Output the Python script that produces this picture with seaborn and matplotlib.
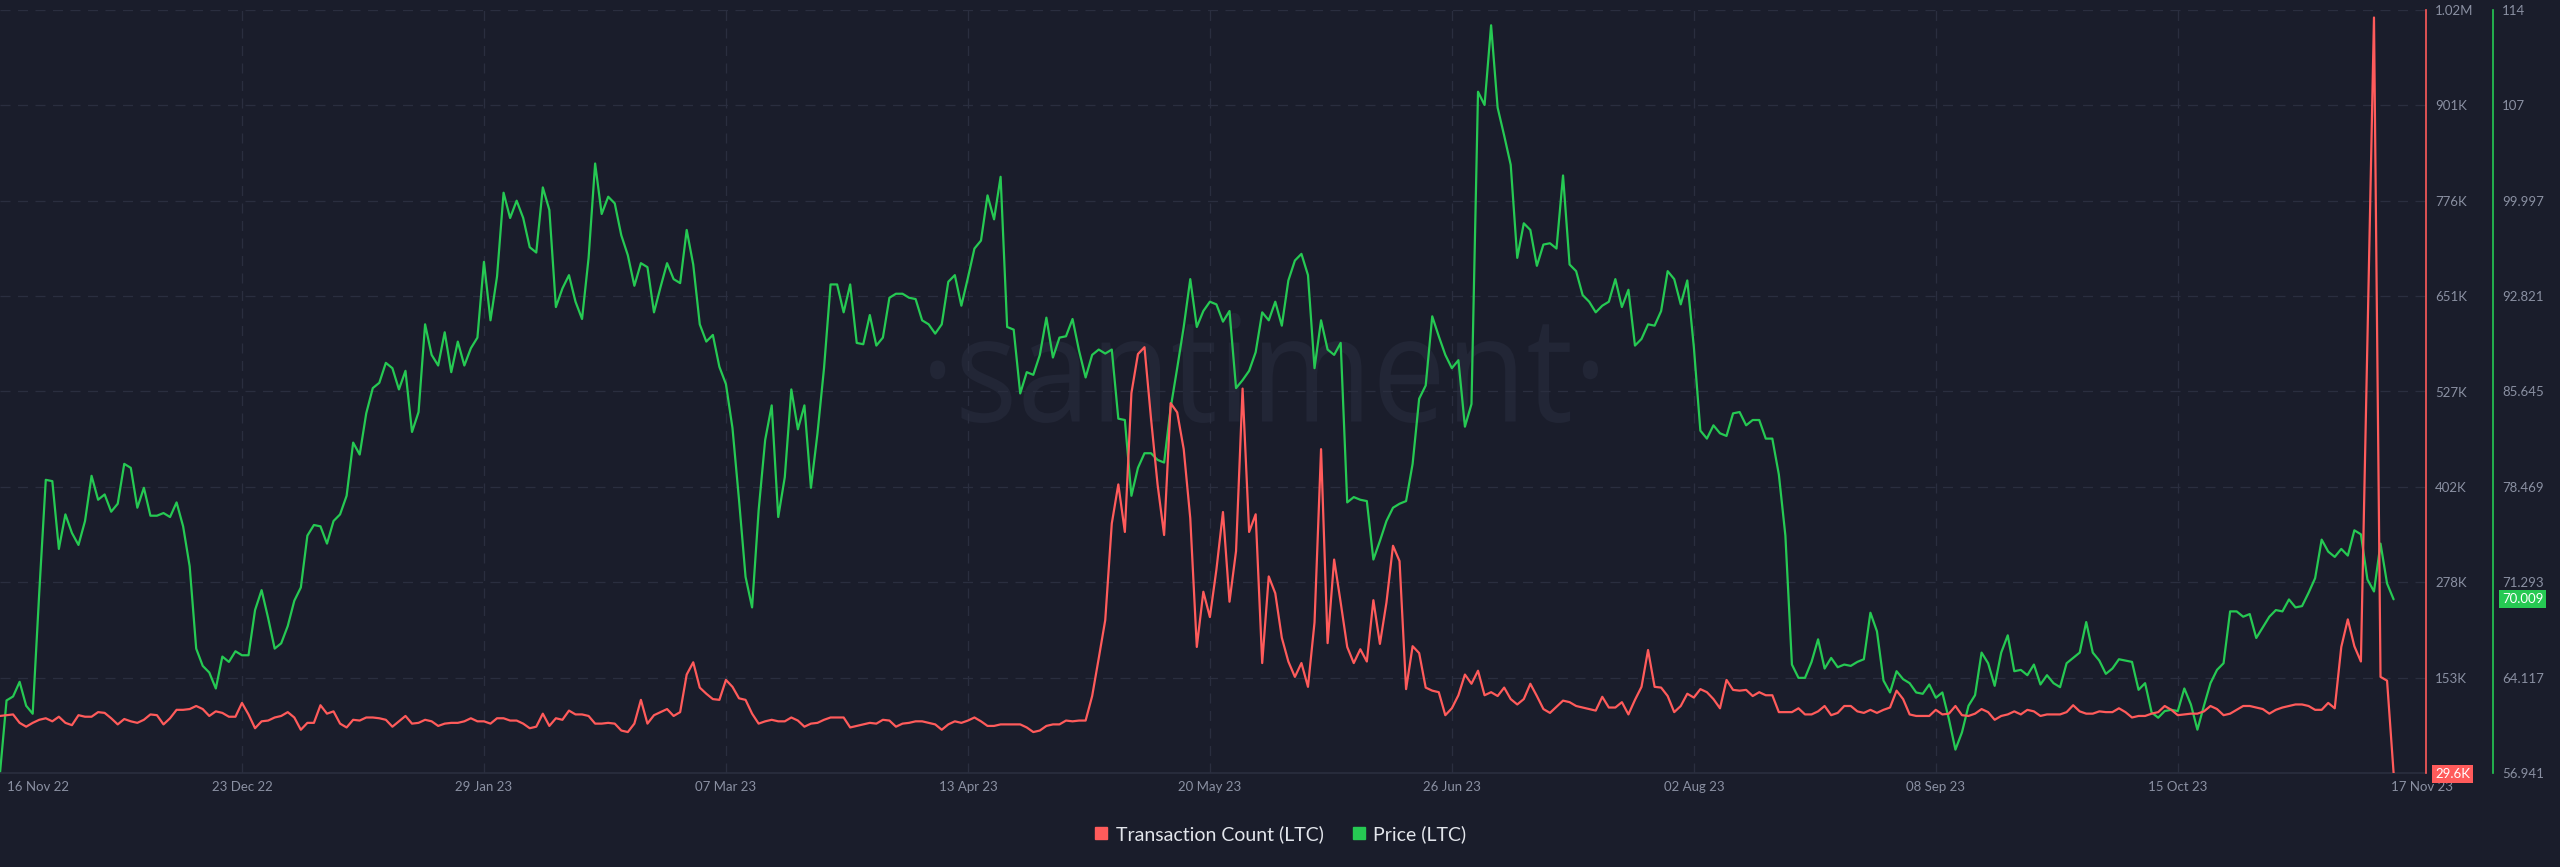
import numpy as np
import pandas as pd
import matplotlib
matplotlib.use("Agg")
import matplotlib.pyplot as plt
from matplotlib.lines import Line2D
from matplotlib.textpath import TextPath
from matplotlib.patches import PathPatch
from matplotlib.font_manager import FontProperties
from matplotlib.transforms import Affine2D, ScaledTranslation
import seaborn as sns

# ---------------- data ----------------
start_date = "2022-11-16"
end_date = "2023-11-17"

price_ltc = [
    56.941, 62.4, 62.7, 63.8, 62.0, 61.4, 70.5, 79.0, 78.9, 73.8,
    76.4, 75.0, 74.1, 75.9, 79.3, 77.5, 77.9, 76.6, 77.2, 80.2,
    79.9, 76.9, 78.4, 76.3, 76.3, 76.5, 76.2, 77.3, 75.5, 72.5,
    66.3, 65.0, 64.5, 63.3, 65.7, 65.3, 66.1, 65.8, 65.8, 69.2,
    70.7, 68.6, 66.3, 66.7, 68.0, 69.9, 70.9, 74.8, 75.6, 75.5,
    74.2, 75.9, 76.4, 77.8, 81.8, 80.9, 84.0, 85.9, 86.3, 87.8,
    87.4, 85.8, 87.2, 82.6, 84.1, 90.7, 88.4, 87.6, 90.1, 87.1,
    89.4, 87.6, 88.9, 89.7, 95.4, 91.0, 94.3, 100.6, 98.7, 100.0,
    98.7, 96.5, 96.1, 101.0, 99.3, 92.0, 93.4, 94.4, 92.4, 91.1,
    95.7, 102.8, 99.0, 100.3, 99.8, 97.4, 95.9, 93.6, 95.3, 95.0,
    91.6, 93.5, 95.3, 94.1, 93.8, 97.8, 95.2, 90.7, 89.4, 89.9,
    87.5, 86.2, 82.9, 77.5, 71.7, 69.4, 76.7, 82.0, 84.6, 76.2,
    79.2, 85.8, 82.8, 84.6, 78.4, 82.5, 87.4, 93.7, 93.7, 91.6,
    93.7, 89.3, 89.2, 91.4, 89.1, 89.7, 92.7, 93.0, 93.0, 92.7,
    92.6, 91.0, 90.7, 90.0, 90.7, 93.9, 94.4, 92.1, 94.2, 96.4,
    97.0, 100.4, 98.6, 101.8, 90.5, 90.3, 85.5, 87.1, 86.9, 88.4,
    91.2, 88.2, 89.7, 89.8, 91.1, 88.7, 86.7, 88.4, 88.8, 88.5,
    88.8, 83.6, 83.5, 77.8, 79.9, 81.0, 81.0, 80.5, 80.3, 84.4,
    87.4, 90.5, 94.1, 90.5, 91.7, 92.4, 92.2, 90.9, 91.7, 85.9,
    86.5, 87.2, 88.6, 91.6, 91.0, 92.4, 90.6, 94.0, 95.5, 96.0,
    94.4, 87.4, 91.0, 88.8, 88.4, 89.3, 77.3, 77.7, 77.5, 77.4,
    73.0, 74.4, 75.9, 76.9, 77.2, 77.4, 80.2, 85.1, 86.1, 91.3,
    89.8, 88.4, 87.4, 88.0, 83.0, 84.7, 108.2, 107.2, 113.2, 107.0,
    104.9, 102.7, 95.7, 98.3, 97.8, 95.1, 96.7, 96.8, 96.4, 101.9,
    95.2, 94.7, 92.9, 92.4, 91.6, 92.1, 92.4, 94.1, 92.0, 93.3,
    89.1, 89.6, 90.7, 90.6, 91.7, 94.7, 94.1, 92.2, 94.0, 89.0,
    82.7, 82.1, 83.1, 82.5, 82.3, 84.0, 84.1, 83.1, 83.5, 83.5,
    82.1, 82.1, 79.4, 74.8, 65.1, 64.1, 64.1, 65.3, 67.0, 64.8,
    65.6, 64.9, 65.1, 65.0, 65.3, 65.5, 69.0, 67.6, 63.9, 63.0,
    64.6, 64.0, 63.7, 63.0, 62.9, 63.6, 62.6, 63.0, 61.0, 58.7,
    60.0, 62.0, 62.8, 66.0, 65.2, 63.5, 66.0, 67.3, 64.6, 64.7,
    64.3, 65.1, 63.6, 64.3, 63.7, 63.4, 65.2, 65.6, 66.0, 68.3,
    66.0, 65.4, 64.4, 64.8, 65.5, 65.4, 65.3, 63.2, 63.7, 61.5,
    61.1, 61.6, 61.7, 61.6, 63.3, 62.1, 60.2, 62.0, 63.7, 64.7,
    65.2, 69.1, 69.1, 68.7, 68.9, 67.1, 67.9, 68.7, 69.2, 69.1,
    70.0, 69.4, 69.5, 70.5, 71.6, 74.5, 73.6, 73.2, 73.8, 73.3,
    75.2, 74.9, 71.5, 70.6, 74.2, 71.2, 70.009,
]

# transaction count, in thousands
tx_count_k = [
    104, 105, 106, 95, 90, 95, 99, 101, 97, 103,
    95, 92, 105, 103, 103, 109, 108, 101, 93, 100,
    97, 95, 99, 106, 105, 93, 101, 112, 112, 113,
    117, 113, 104, 110, 108, 103, 103, 121, 106, 88,
    97, 98, 102, 104, 109, 102, 86, 95, 95, 118,
    107, 110, 94, 89, 99, 98, 102, 102, 101, 99,
    90, 97, 104, 94, 95, 99, 97, 91, 94, 95,
    95, 97, 101, 97, 97, 94, 101, 101, 98, 98,
    94, 88, 90, 107, 91, 101, 99, 111, 106, 106,
    104, 94, 94, 95, 94, 85, 83, 94, 125, 94,
    105, 109, 113, 104, 109, 158, 174, 141, 133, 126,
    125, 151, 142, 127, 125, 107, 94, 97, 99, 97,
    97, 102, 98, 90, 94, 95, 99, 102, 102, 102,
    89, 91, 93, 95, 94, 99, 98, 90, 94, 95,
    97, 97, 95, 93, 86, 93, 97, 95, 98, 102,
    97, 91, 91, 93, 93, 93, 93, 89, 83, 85,
    91, 93, 93, 98, 97, 98, 98, 130, 179, 229,
    355, 406, 344, 525, 576, 585, 492, 406, 340, 512,
    500, 452, 362, 194, 266, 233, 295, 370, 253, 319,
    531, 344, 367, 173, 286, 264, 206, 175, 155, 173,
    142, 226, 452, 199, 308, 252, 194, 173, 191, 175,
    255, 198, 252, 326, 306, 139, 195, 186, 141, 137,
    135, 105, 114, 131, 158, 146, 163, 131, 135, 130,
    141, 126, 119, 126, 146, 130, 113, 108, 116, 124,
    122, 117, 115, 113, 111, 129, 115, 115, 122, 106,
    125, 142, 190, 142, 141, 130, 109, 117, 133, 128,
    139, 135, 126, 114, 151, 138, 137, 138, 130, 135,
    131, 131, 109, 109, 109, 114, 106, 106, 110, 117,
    105, 108, 117, 117, 110, 108, 112, 108, 112, 115,
    137, 126, 106, 104, 104, 104, 112, 106, 107, 117,
    105, 104, 107, 113, 109, 99, 104, 106, 110, 106,
    112, 110, 104, 106, 106, 106, 109, 118, 110, 107,
    107, 110, 109, 109, 114, 109, 102, 104, 104, 107,
    109, 117, 112, 105, 106, 107, 107, 110, 117, 113,
    105, 107, 112, 117, 117, 115, 113, 107, 112, 115,
    117, 119, 119, 117, 112, 112, 121, 114, 194, 230,
    195, 175, 595, 1015, 155, 150, 29.6,
]

x_tick_dates = ["2022-11-16", "2022-12-23", "2023-01-29", "2023-03-07",
                "2023-04-13", "2023-05-20", "2023-06-26", "2023-08-02",
                "2023-09-08", "2023-10-15", "2023-11-17"]
x_tick_labels = ["16 Nov 22", "23 Dec 22", "29 Jan 23", "07 Mar 23",
                 "13 Apr 23", "20 May 23", "26 Jun 23", "02 Aug 23",
                 "08 Sep 23", "15 Oct 23", "17 Nov 23"]

tx_axis_range = (29_600, 1_024_800)
tx_tick_labels = ["29.6K", "153K", "278K", "402K", "527K", "651K",
                  "776K", "901K", "1.02M"]
price_axis_range = (56.941, 114.349)
price_tick_labels = ["56.941", "64.117", "71.293", "78.469", "85.645",
                     "92.821", "99.997", "107", "114"]

series_names = ["Transaction Count (LTC)", "Price (LTC)"]

# ---------------- style ----------------
BG = "#1a1d2b"
GRID = "#2a2e3f"
RED = "#ff5b5b"
GREEN = "#26c953"
TICK = "#8a90a2"
LEGTXT = "#e2e5eb"
WM = "#222636"

sns.set_theme(style="dark", rc={"axes.facecolor": BG, "figure.facecolor": BG,
                               "savefig.facecolor": BG})
plt.rcParams["font.family"] = ["Lato", "DejaVu Sans"]

dates = pd.date_range(start_date, end_date, freq="D")
assert len(dates) == len(price_ltc) == len(tx_count_k)
df = pd.DataFrame({"date": dates,
                   "price": price_ltc,
                   "tx": np.array(tx_count_k, dtype=float) * 1000})

W, H = 2560, 867
fig = plt.figure(figsize=(W / 100, H / 100), dpi=100)
fig.patch.set_facecolor(BG)

# watermark
fp = FontProperties(family=["Open Sans", "DejaVu Sans"], weight="normal")
tp = TextPath((0, 0), "·santiment·", size=100, prop=fp)
bb = tp.get_extents()
x0, x1 = 930 / W, 1598 / W
y0, y1 = 1 - 423 / H, 1 - 313 / H
tr = (Affine2D().translate(-bb.x0, -bb.y0)
      .scale((x1 - x0) / bb.width, (y1 - y0) / bb.height)
      .translate(x0, y0)) + fig.transFigure
wm = PathPatch(tp, transform=tr, facecolor=WM, edgecolor="none", zorder=-5)
fig.add_artist(wm)

ax_left_px, ax_right_px, ax_top_px, ax_bot_px = 0, 2426, 10, 773
ax_price = fig.add_axes([ax_left_px / W, 1 - ax_bot_px / H,
                         (ax_right_px - ax_left_px) / W,
                         (ax_bot_px - ax_top_px) / H])
ax_price.patch.set_visible(False)
ax_tx = ax_price.twinx()

sns.lineplot(data=df, x="date", y="price", ax=ax_price, color=GREEN, lw=1.6)
sns.lineplot(data=df, x="date", y="tx", ax=ax_tx, color=RED, lw=1.6)

for a in (ax_price, ax_tx):
    a.set_xlabel("")
    a.set_ylabel("")
    for s in ("top", "left"):
        a.spines[s].set_visible(False)

# x range
d0 = pd.Timestamp(start_date)
n_days = len(dates) - 1
px_per_day = 2393.6 / n_days
ax_price.set_xlim(d0, d0 + pd.Timedelta(days=(ax_right_px - ax_left_px) / px_per_day))

# y ranges and ticks
ax_tx.set_ylim(*tx_axis_range)
ax_tx.set_yticks(np.linspace(*tx_axis_range, len(tx_tick_labels)))
ax_tx.set_yticklabels(tx_tick_labels)
ax_price.set_ylim(*price_axis_range)
ax_price.set_yticks(np.linspace(*price_axis_range, len(price_tick_labels)))
ax_price.set_yticklabels(price_tick_labels)

ax_price.yaxis.tick_right()
ax_price.spines["right"].set_position(("axes", 2493 / 2426))
ax_price.spines["right"].set_color(GREEN)
ax_price.spines["right"].set_linewidth(1.2)
ax_tx.spines["right"].set_color(RED)
ax_tx.spines["right"].set_linewidth(1.2)
ax_tx.spines["bottom"].set_visible(False)
ax_price.spines["bottom"].set_visible(True)
ax_price.spines["bottom"].set_color(GRID)
ax_price.spines["bottom"].set_linewidth(1.2)

for a in (ax_price, ax_tx):
    a.tick_params(axis="y", which="both", length=0, pad=6.5,
                  labelsize=9.5, labelcolor=TICK)

# x ticks
tick_dates = pd.to_datetime(x_tick_dates)
ax_price.set_xticks(tick_dates)
ax_price.set_xticklabels(x_tick_labels)
ax_price.tick_params(axis="x", length=0, pad=6, labelsize=9.5, labelcolor=TICK)

# grid
ax_price.grid(True, axis="both", color=GRID, linestyle=(0, (8, 6)), lw=0.9)
ax_tx.grid(False)
glines = ax_price.xaxis.get_gridlines()
glines[0].set_visible(False)
glines[-1].set_visible(False)

# first / last x labels aligned left
xl = ax_price.xaxis.get_major_ticks()
first_lbl = xl[0].label1
first_lbl.set_horizontalalignment("left")
first_lbl.set_transform(first_lbl.get_transform() +
                        ScaledTranslation(7 / 100, 0, fig.dpi_scale_trans))
last_lbl = xl[-1].label1
last_lbl.set_horizontalalignment("left")
last_lbl.set_transform(last_lbl.get_transform() +
                       ScaledTranslation(-3 / 100, 0, fig.dpi_scale_trans))

# red value box (last tx value = axis minimum)
min_lbl = ax_tx.yaxis.get_major_ticks()[0].label2
min_lbl.set_color("white")
min_lbl.set_bbox(dict(facecolor=RED, edgecolor="none", pad=2.2))

# green last-price box
last_price = price_ltc[-1]
ax_price.text((2502 - ax_left_px) / (ax_right_px - ax_left_px), last_price,
              f"{last_price:.3f}", transform=ax_price.get_yaxis_transform(),
              ha="left", va="center", color="white", fontsize=9.5,
              bbox=dict(facecolor=GREEN, edgecolor="none", pad=2.2),
              clip_on=False, zorder=10)

# legend
handles = [Line2D([], [], marker="s", linestyle="none", color=RED, markersize=8.6),
           Line2D([], [], marker="s", linestyle="none", color=GREEN, markersize=8.6)]
fig.legend(handles, series_names, loc="center", bbox_to_anchor=(0.5, 1 - 834 / H),
           ncol=2, frameon=False, fontsize=14, labelcolor=LEGTXT,
           handletextpad=0.35, columnspacing=1.4, handlelength=0.8)

fig.savefig("out.png", dpi=100, facecolor=BG)
